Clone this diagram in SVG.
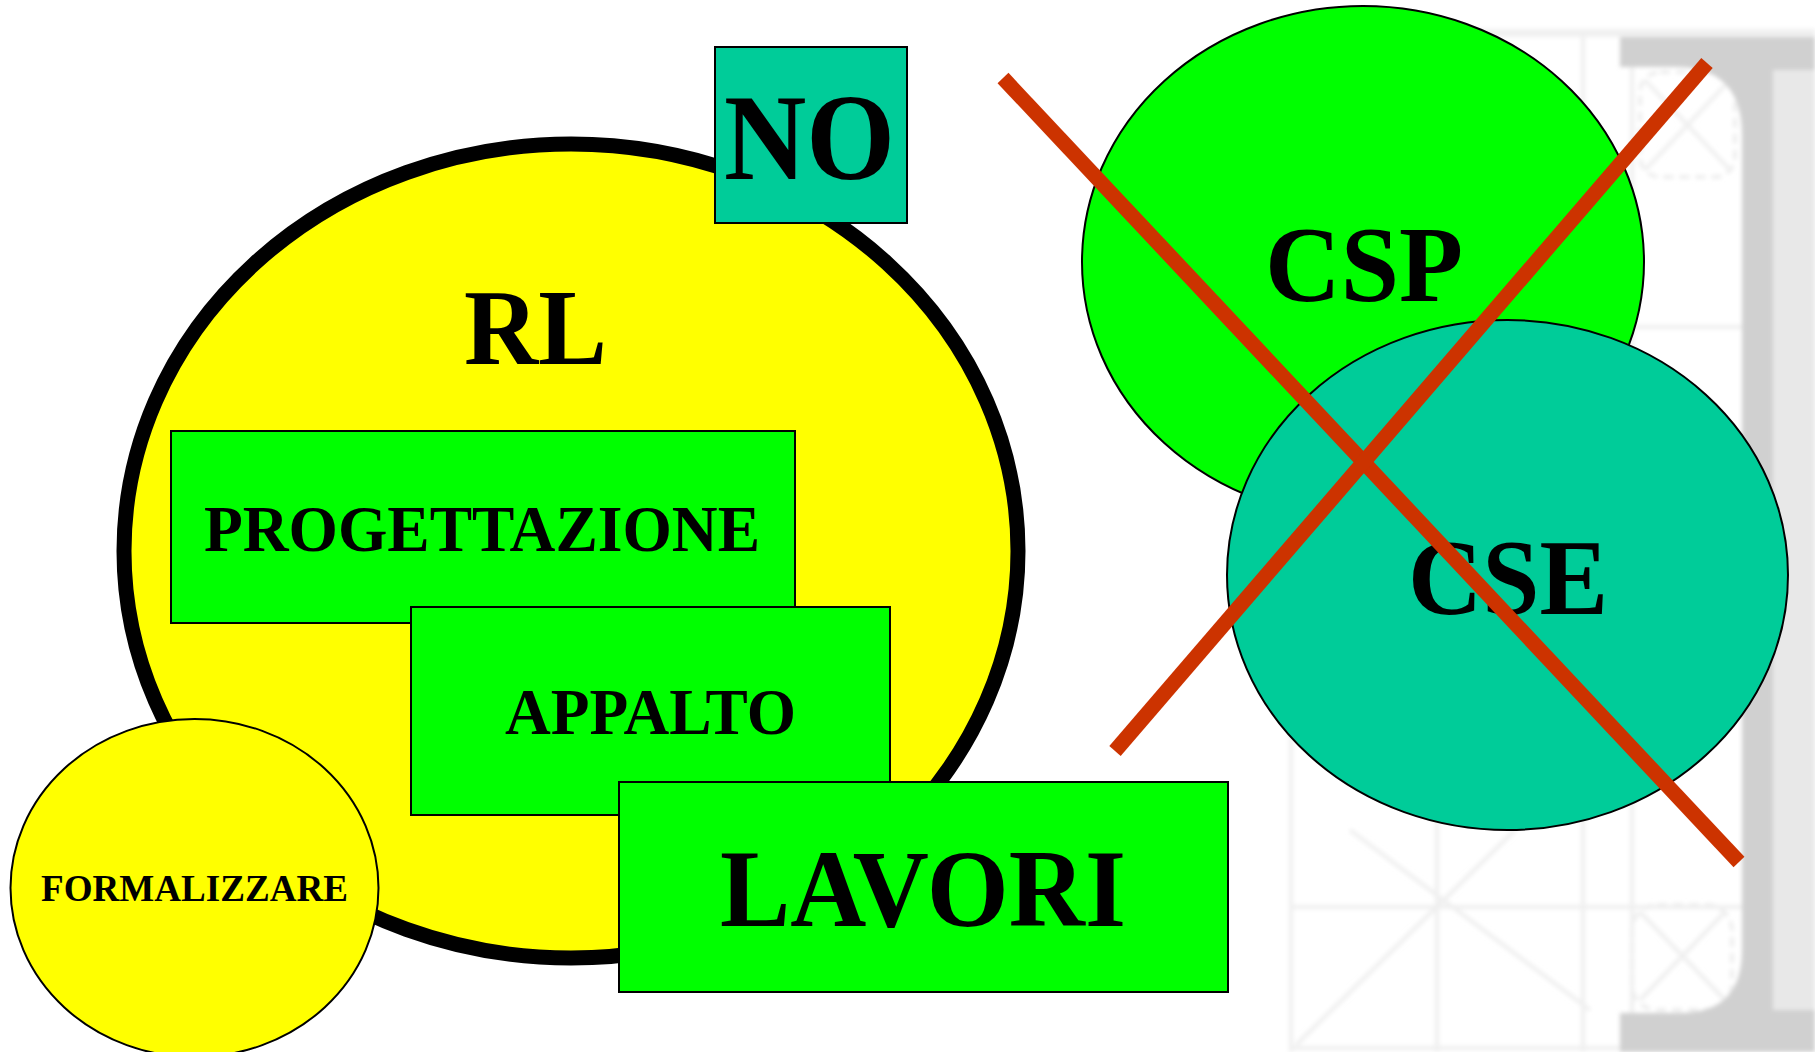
<svg xmlns="http://www.w3.org/2000/svg" width="1815" height="1052" viewBox="0 0 1815 1052">
<style>
.t{font-family:"Liberation Serif","Times New Roman",serif;font-weight:bold;fill:#000}
.box{stroke:#000;stroke-width:2}
.g{fill:#00FF00}
.teal{fill:#00CC99}
.bg{stroke:#efefef;stroke-width:4;fill:none}
.x{stroke:#CC3300;stroke-width:15;stroke-linecap:butt}
</style>
<defs>
<filter id="soft" x="-5%" y="-5%" width="110%" height="110%"><feGaussianBlur stdDeviation="2"/></filter>
</defs>
<rect width="1815" height="1052" fill="#fff"/>
<g id="background" filter="url(#soft)">
<rect x="1285" y="29" width="530" height="8" fill="#f0f0f0"/>
<line class="bg" x1="1291" y1="37" x2="1291" y2="1052"/>
<line class="bg" x1="1437" y1="37" x2="1437" y2="1052"/>
<line class="bg" x1="1583" y1="37" x2="1583" y2="1052"/>
<line class="bg" x1="1632" y1="67" x2="1632" y2="1013"/>
<line class="bg" x1="1291" y1="327" x2="1742" y2="327"/>
<line class="bg" x1="1291" y1="907" x2="1742" y2="907"/>
<line class="bg" x1="1291" y1="1048" x2="1620" y2="1048"/>
<line class="bg" x1="1296" y1="1045" x2="1515" y2="830"/>
<line class="bg" x1="1350" y1="830" x2="1590" y2="1010"/>
<rect x="1640" y="72" width="95" height="105" rx="20" fill="none" stroke="#eeeeee" stroke-width="4" stroke-dasharray="10 6"/>
<line class="bg" x1="1645" y1="80" x2="1730" y2="170"/>
<line class="bg" x1="1730" y1="80" x2="1645" y2="170"/>
<rect x="1632" y="905" width="100" height="105" rx="25" fill="none" stroke="#eeeeee" stroke-width="4" stroke-dasharray="10 6"/>
<line class="bg" x1="1640" y1="912" x2="1725" y2="1000"/>
<line class="bg" x1="1725" y1="912" x2="1640" y2="1000"/>
<path d="M1620,37 H1815 V1052 H1620 V1013 H1680 Q1742,1013 1742,950 V135 Q1742,67 1675,67 H1620 Z" fill="#d0d0d0"/>
<rect x="1773" y="70" width="42" height="940" fill="#e8e8e8"/>
</g>
<g id="RL">
<ellipse cx="571" cy="551" rx="447" ry="407" fill="#FFFF00" stroke="#000" stroke-width="15"/>
<text class="t" x="464" y="364" font-size="107" textLength="143" lengthAdjust="spacingAndGlyphs">RL</text>
</g>
<g id="NO">
<rect class="box teal" x="715" y="47" width="192" height="176"/>
<text class="t" x="724" y="179" font-size="122" textLength="171" lengthAdjust="spacingAndGlyphs">NO</text>
</g>
<g id="PROGETTAZIONE">
<rect class="box g" x="171" y="431" width="624" height="192"/>
<text class="t" x="204" y="551" font-size="66" textLength="556" lengthAdjust="spacingAndGlyphs">PROGETTAZIONE</text>
</g>
<g id="APPALTO">
<rect class="box g" x="411" y="607" width="479" height="208"/>
<text class="t" x="505" y="734" font-size="66" textLength="291" lengthAdjust="spacingAndGlyphs">APPALTO</text>
</g>
<g id="LAVORI">
<rect class="box g" x="619" y="782" width="609" height="210"/>
<text class="t" x="720" y="926" font-size="110" textLength="406" lengthAdjust="spacingAndGlyphs">LAVORI</text>
</g>
<g id="FORMALIZZARE">
<ellipse cx="194.5" cy="888" rx="184" ry="169" fill="#FFFF00" stroke="#000" stroke-width="2"/>
<text class="t" x="41" y="901" font-size="38" textLength="307" lengthAdjust="spacingAndGlyphs">FORMALIZZARE</text>
</g>
<g id="CSP">
<ellipse cx="1363" cy="262" rx="281" ry="256" fill="#00FF00" stroke="#000" stroke-width="2"/>
<text class="t" x="1265" y="301" font-size="109" textLength="198" lengthAdjust="spacingAndGlyphs">CSP</text>
</g>
<g id="CSE">
<ellipse cx="1507.5" cy="575" rx="280.5" ry="255" fill="#00CC99" stroke="#000" stroke-width="2"/>
<text class="t" x="1408" y="614" font-size="109" textLength="200" lengthAdjust="spacingAndGlyphs">CSE</text>
</g>
<g id="connectors">
<line class="x" x1="1003" y1="78" x2="1739" y2="862"/>
<line class="x" x1="1707" y1="63" x2="1115" y2="751"/>
</g>
</svg>
